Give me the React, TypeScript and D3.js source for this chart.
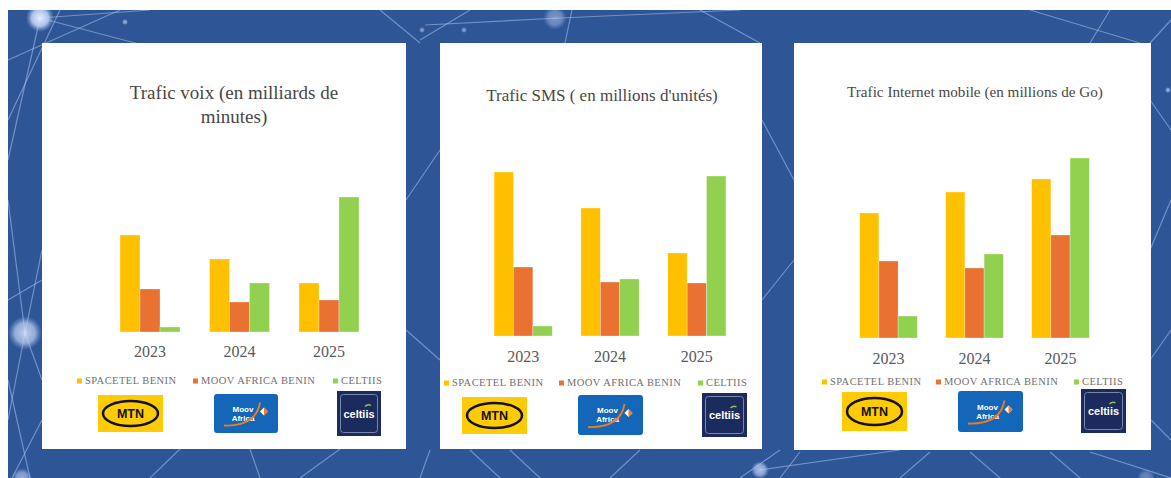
import React from "react";
import * as d3 from "d3";

const years = ["2023", "2024", "2025"];
const operators = ["SPACETEL BENIN", "MOOV AFRICA BENIN", "CELTIIS"];

// Trafic voix (en milliards de minutes) - estimated
const voixSpacetel = [9.7, 7.3, 4.9];
const voixMoov = [4.3, 3.0, 3.2];
const voixCeltiis = [0.5, 4.9, 13.5];

// Trafic SMS (en millions d'unités) - estimated
const smsSpacetel = [164, 128, 83];
const smsMoov = [69, 54, 53];
const smsCeltiis = [10, 57, 160];

// Trafic Internet mobile (en millions de Go) - estimated
const netSpacetel = [125, 146, 159];
const netMoov = [77, 70, 103];
const netCeltiis = [22, 84, 180];

const colors = ["#FFC000", "#E97132", "#92D050"];
const TEXT = "#595959";
const SERIF = "'Liberation Serif', 'DejaVu Serif', serif";
const SANS = "'Liberation Sans', Arial, sans-serif";

type Logo = { x: number; y: number; w: number; h: number };
type PanelCfg = {
  box: { x: number; y: number; w: number; h: number };
  title: string[];
  titleX: number;
  titleY: number[];
  titleSize: number;
  plotX: [number, number];
  baseline: number;
  top: number;
  yMax: number;
  data: number[][];
  yearY: number;
  legendY: number;
  legendX: number[];
  mtn: Logo;
  moov: Logo;
  celtiis: Logo;
};

const panels: PanelCfg[] = [
  {
    box: { x: 42, y: 43, w: 364, h: 406 },
    title: ["Trafic voix (en milliards de", "minutes)"],
    titleX: 234,
    titleY: [99, 123],
    titleSize: 19,
    plotX: [105.25, 373.75],
    baseline: 332,
    top: 197,
    yMax: 13.5,
    data: [voixSpacetel, voixMoov, voixCeltiis],
    yearY: 357,
    legendY: 384,
    legendX: [77, 193, 333],
    mtn: { x: 98, y: 395, w: 65, h: 37 },
    moov: { x: 214, y: 394, w: 64, h: 39 },
    celtiis: { x: 337, y: 391, w: 44, h: 45 },
  },
  {
    box: { x: 440, y: 43, w: 322, h: 406 },
    title: ["Trafic SMS ( en millions d'unités)"],
    titleX: 602,
    titleY: [101],
    titleSize: 17,
    plotX: [479.75, 740.25],
    baseline: 336,
    top: 172,
    yMax: 164,
    data: [smsSpacetel, smsMoov, smsCeltiis],
    yearY: 362,
    legendY: 386,
    legendX: [444, 559, 698],
    mtn: { x: 462, y: 397, w: 65, h: 37 },
    moov: { x: 578, y: 395, w: 65, h: 40 },
    celtiis: { x: 702, y: 393, w: 45, h: 44 },
  },
  {
    box: { x: 794, y: 43, w: 357, h: 407 },
    title: ["Trafic Internet mobile (en millions de Go)"],
    titleX: 975,
    titleY: [97],
    titleSize: 15.2,
    plotX: [845.5, 1103.5],
    baseline: 338,
    top: 158,
    yMax: 180,
    data: [netSpacetel, netMoov, netCeltiis],
    yearY: 364,
    legendY: 385,
    legendX: [822, 936, 1074],
    mtn: { x: 842, y: 392, w: 65, h: 39 },
    moov: { x: 958, y: 391, w: 65, h: 41 },
    celtiis: { x: 1081, y: 389, w: 45, h: 44 },
  },
];

// decorative network background
const bgLines: [number, number, number, number][] = [
  [8, 120, 60, 10],
  [8, 60, 120, 10],
  [40, 18, 200, 60],
  [40, 18, 8, 160],
  [40, 18, 150, 10],
  [30, 478, 8, 380],
  [25, 333, 8, 200],
  [25, 333, 42, 250],
  [25, 333, 8, 420],
  [25, 333, 42, 380],
  [8, 300, 42, 280],
  [12, 478, 42, 420],
  [420, 40, 470, 10],
  [425, 25, 560, 18],
  [560, 18, 740, 10],
  [572, 10, 565, 43],
  [380, 10, 420, 43],
  [700, 10, 760, 43],
  [1030, 10, 1140, 43],
  [1110, 10, 1090, 43],
  [1150, 43, 1171, 20],
  [1150, 100, 1171, 130],
  [1150, 250, 1171, 200],
  [1150, 360, 1171, 330],
  [1151, 420, 1171, 440],
  [406, 200, 440, 150],
  [406, 330, 440, 360],
  [762, 120, 794, 180],
  [762, 300, 794, 260],
  [500, 478, 470, 450],
  [540, 478, 510, 450],
  [610, 478, 640, 450],
  [740, 478, 780, 450],
  [760, 470, 900, 450],
  [780, 478, 800, 452],
  [900, 478, 930, 452],
  [1000, 478, 970, 452],
  [1080, 478, 1050, 452],
  [1090, 452, 1171, 478],
  [420, 478, 430, 450],
  [150, 478, 180, 449],
  [260, 478, 250, 449],
  [300, 478, 340, 449],
];
const bgNodes: [number, number, number, number][] = [
  [40, 18, 14, 1],
  [25, 333, 17, 0.8],
  [555, 18, 12, 0.45],
  [22, 478, 10, 0.6],
  [1146, 478, 9, 0.35],
  [760, 470, 9, 0.7],
  [422, 30, 3, 0.5],
  [464, 30, 3, 0.5],
  [1168, 90, 3, 0.6],
  [125, 22, 3, 0.6],
];

function MtnLogo({ x, y, w, h }: Logo) {
  return (
    <g>
      <rect x={x} y={y} width={w} height={h} fill="#FFCB05" />
      <ellipse cx={x + w / 2} cy={y + h / 2} rx={w / 2 - 5} ry={h / 2 - 6} fill="none" stroke="#111" strokeWidth={2.5} />
      <text x={x + w / 2} y={y + h / 2 + 4.5} textAnchor="middle" fontFamily={SANS} fontWeight={700} fontSize={12.5} fill="#111">
        MTN
      </text>
    </g>
  );
}

function MoovLogo({ x, y, w, h }: Logo) {
  const cx = x + w / 2;
  const cy = y + h / 2;
  return (
    <g>
      <rect x={x} y={y} width={w} height={h} rx={3} fill="#1466B8" />
      <text x={cx - 3} y={cy - 2} textAnchor="middle" fontFamily={SANS} fontWeight={700} fontSize={8} fill="#fff">
        Moov
      </text>
      <text x={cx - 3} y={cy + 7} textAnchor="middle" fontFamily={SANS} fontWeight={700} fontSize={8} fill="#fff">
        Africa
      </text>
      <path
        d={`M${x + 10},${cy + 12} Q${cx + 10},${cy + 13} ${cx + 14},${cy - 11}`}
        fill="none"
        stroke="#F07D1A"
        strokeWidth={1.8}
      />
      <path d={`M${cx + 14},${cy - 2} l4,-4 l4,4 l-4,4 z`} fill="#fff" />
      <path d={`M${cx + 18},${cy - 6} l4,4 l-4,4 z`} fill="#F07D1A" />
    </g>
  );
}

function CeltiisLogo({ x, y, w, h }: Logo) {
  return (
    <g>
      <rect x={x} y={y} width={w} height={h} fill="#1C2B5E" />
      <rect x={x + 3.5} y={y + 3.5} width={w - 7} height={h - 7} rx={3} fill="none" stroke="#7886AA" strokeWidth={1} />
      <text x={x + w / 2} y={y + h / 2 + 4} textAnchor="middle" fontFamily={SANS} fontWeight={700} fontSize={11} fill="#fff">
        celtiis
      </text>
      <path d={`M${x + w / 2 + 6},${y + h / 2 - 7} q3,-3 6,-1`} fill="none" stroke="#8DC63F" strokeWidth={1.5} />
    </g>
  );
}

function Panel({ cfg }: { cfg: PanelCfg }) {
  const x0 = d3.scaleBand<string>().domain(years).range(cfg.plotX).paddingInner(0.33).paddingOuter(0.165);
  const x1 = d3.scaleBand<string>().domain(operators).range([0, x0.bandwidth()]);
  const y = d3.scaleLinear().domain([0, cfg.yMax]).range([cfg.baseline, cfg.top]);
  return (
    <g>
      <rect x={cfg.box.x} y={cfg.box.y} width={cfg.box.w} height={cfg.box.h} fill="#fff" />
      {cfg.title.map((t, i) => (
        <text
          key={i}
          x={cfg.titleX}
          y={cfg.titleY[i]}
          textAnchor="middle"
          fontFamily={SERIF}
          fontSize={cfg.titleSize}
          fill="#4a4745"
        >
          {t}
        </text>
      ))}
      {years.map((yr, yi) => (
        <g key={yr}>
          {operators.map((op, si) => {
            const v = cfg.data[si][yi];
            const bx = (x0(yr) ?? 0) + (x1(op) ?? 0);
            return (
              <rect
                key={op}
                x={bx}
                y={y(v)}
                width={x1.bandwidth()}
                height={y(0) - y(v)}
                fill={colors[si]}
                stroke="#fff"
                strokeOpacity={0.5}
                strokeWidth={0.6}
              />
            );
          })}
          <text
            x={(x0(yr) ?? 0) + x0.bandwidth() / 2}
            y={cfg.yearY}
            textAnchor="middle"
            fontFamily={SERIF}
            fontSize={16}
            fill={TEXT}
          >
            {yr}
          </text>
        </g>
      ))}
      {operators.map((op, si) => (
        <g key={op}>
          <rect x={cfg.legendX[si]} y={cfg.legendY - 5.5} width={5} height={5} fill={colors[si]} />
          <text
            x={cfg.legendX[si] + 8}
            y={cfg.legendY}
            fontFamily={SERIF}
            fontSize={10.5}
            letterSpacing={0.45}
            fill="#707070"
          >
            {op}
          </text>
        </g>
      ))}
      <MtnLogo {...cfg.mtn} />
      <MoovLogo {...cfg.moov} />
      <CeltiisLogo {...cfg.celtiis} />
    </g>
  );
}

export default function App() {
  return (
    <svg
      width={1171}
      height={478}
      viewBox="0 0 1171 478"
      style={{ position: "absolute", left: 0, top: 0, display: "block" }}
    >
      <defs>
        <radialGradient id="glow">
          <stop offset="0%" stopColor="#e6eeff" stopOpacity={1} />
          <stop offset="60%" stopColor="#b9cdf3" stopOpacity={0.9} />
          <stop offset="100%" stopColor="#8aa8e0" stopOpacity={0} />
        </radialGradient>
      </defs>
      <rect x={0} y={0} width={1171} height={478} fill="#fff" />
      <rect x={8} y={10} width={1163} height={468} fill="#2E5596" />
      <g>
        {bgLines.map((l, i) => (
          <line key={i} x1={l[0]} y1={l[1]} x2={l[2]} y2={l[3]} stroke="#a9c2ee" strokeOpacity={0.55} strokeWidth={1.2} />
        ))}
        {bgNodes.map((n, i) => (
          <circle key={i} cx={n[0]} cy={n[1]} r={n[2]} fill="url(#glow)" opacity={n[3]} />
        ))}
      </g>
      <rect x={0} y={0} width={1171} height={10} fill="#fff" />
      <rect x={0} y={0} width={8} height={478} fill="#fff" />
      {panels.map((p, i) => (
        <Panel key={i} cfg={p} />
      ))}
    </svg>
  );
}
